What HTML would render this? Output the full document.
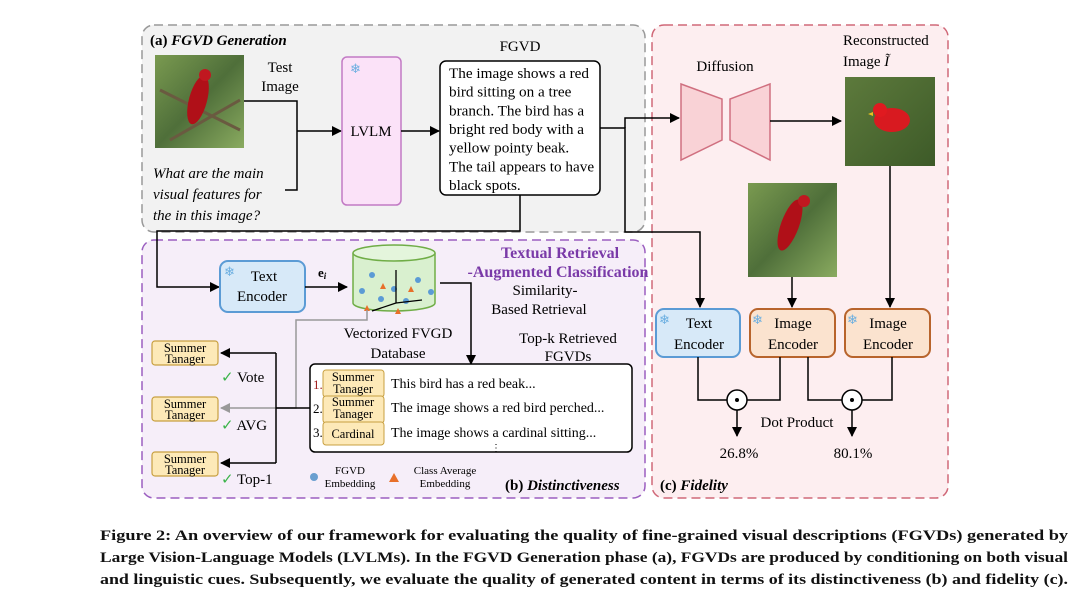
<!DOCTYPE html>
<html><head><meta charset="utf-8"><style>
body{margin:0;background:#fff;width:1080px;height:609px;overflow:hidden}
svg text{font-family:"Liberation Serif",serif}
</style></head><body>
<svg width="1080" height="609" style="position:absolute;left:0;top:0">
<defs>
<marker id="a" markerWidth="10" markerHeight="10" refX="9" refY="5" orient="auto" markerUnits="userSpaceOnUse"><path d="M0,0L10,5L0,10z" fill="#000"/></marker>
<marker id="g" markerWidth="10" markerHeight="10" refX="9" refY="5" orient="auto" markerUnits="userSpaceOnUse"><path d="M0,0L10,5L0,10z" fill="#999"/></marker>
<linearGradient id="bg1" x1="0" y1="0" x2="1" y2="1"><stop offset="0" stop-color="#7a9a50"/><stop offset=".5" stop-color="#4f6f3a"/><stop offset="1" stop-color="#8aab60"/></linearGradient>
<linearGradient id="bg2" x1="0" y1="0" x2="1" y2="1"><stop offset="0" stop-color="#5d7a3c"/><stop offset="1" stop-color="#3d5a28"/></linearGradient>
</defs>
<rect x="142" y="25" width="503" height="207" rx="12" fill="#f2f2f2" stroke="#999" stroke-width="1.5" stroke-dasharray="9,5"/>
<rect x="142" y="240" width="503" height="258" rx="12" fill="#f6eef9" stroke="#9b5fc0" stroke-width="1.5" stroke-dasharray="9,5"/>
<rect x="652" y="25" width="296" height="473" rx="12" fill="#fdeef0" stroke="#d06878" stroke-width="1.5" stroke-dasharray="9,5"/>
<text x="150" y="45" font-size="15" font-weight="bold">(a) <tspan font-style="italic">FGVD Generation</tspan></text>
<rect x="155" y="55" width="89" height="93" fill="url(#bg1)"/>
<path d="M160,90L240,130M170,140L240,100" stroke="#6a5a40" stroke-width="3"/>
<ellipse cx="198" cy="100" rx="9" ry="25" fill="#b01018" transform="rotate(15 198 100)"/>
<circle cx="205" cy="75" r="6" fill="#c01820"/>
<text x="280" y="72" font-size="15" text-anchor="middle">Test</text>
<text x="280" y="91" font-size="15" text-anchor="middle">Image</text>
<text font-size="15" font-style="italic"><tspan x="153" y="178">What are the main</tspan><tspan x="153" y="199">visual features for</tspan><tspan x="153" y="220">the in this image?</tspan></text>
<path d="M244,101H297V190H285" fill="none" stroke="#000" stroke-width="1.5"/>
<path d="M297,131H341" stroke="#000" stroke-width="1.5" marker-end="url(#a)"/>
<rect x="342" y="57" width="59" height="148" rx="5" fill="#fbe2f8" stroke="#c27ac4" stroke-width="1.5"/>
<text x="350" y="73" font-size="13" fill="#6aaee0">❄</text>
<text x="371" y="136" font-size="15" text-anchor="middle">LVLM</text>
<path d="M401,131H439" stroke="#000" stroke-width="1.5" marker-end="url(#a)"/>
<text x="520" y="51" font-size="15" text-anchor="middle">FGVD</text>
<rect x="440" y="61" width="160" height="134" rx="6" fill="#fff" stroke="#000" stroke-width="1.5"/>
<text font-size="15.2"><tspan x="449" y="78">The image shows a red</tspan><tspan x="449" y="96.7">bird sitting on a tree</tspan><tspan x="449" y="115.3">branch. The bird has a</tspan><tspan x="449" y="134">bright red body with a</tspan><tspan x="449" y="152.7">yellow pointy beak.</tspan><tspan x="449" y="171.3">The tail appears to have</tspan><tspan x="449" y="190">black spots.</tspan></text>
<path d="M600,128H625V232H700V307" fill="none" stroke="#000" stroke-width="1.5" marker-end="url(#a)"/>
<path d="M625,128V118H679" fill="none" stroke="#000" stroke-width="1.5" marker-end="url(#a)"/>
<path d="M520,195V231H157V287H219" fill="none" stroke="#000" stroke-width="1.5" marker-end="url(#a)"/>
<rect x="220" y="261" width="85" height="51" rx="8" fill="#d7e9f8" stroke="#5b9bd5" stroke-width="2"/>
<text x="224" y="276" font-size="13" fill="#6aaee0">❄</text>
<text x="264" y="281" font-size="15" text-anchor="middle">Text</text>
<text x="262" y="301" font-size="15" text-anchor="middle">Encoder</text>
<text x="318" y="277" font-size="13" font-weight="bold">e<tspan font-size="9" font-style="italic" dy="2">i</tspan></text>
<path d="M305,287H347" stroke="#000" stroke-width="1.5" marker-end="url(#a)"/>
<path d="M353,253V303A41,8 0 0 0 435,303V253" fill="#d9f0cf" stroke="#70ad47" stroke-width="1.5"/>
<ellipse cx="394" cy="253" rx="41" ry="8" fill="#e4f5dc" stroke="#70ad47" stroke-width="1.5"/>
<g fill="#5b9bd5"><circle cx="372" cy="275" r="3"/><circle cx="362" cy="291" r="3"/><circle cx="381" cy="299" r="3"/><circle cx="394" cy="289" r="3"/><circle cx="418" cy="280" r="3"/><circle cx="431" cy="292" r="3"/><circle cx="406" cy="301" r="3"/></g>
<g fill="#e8702a"><path d="M380,289l3,-6l3,6z"/><path d="M408,292l3,-6l3,6z"/><path d="M364,311l3,-6l3,6z"/><path d="M395,314l3,-6l3,6z"/></g>
<path d="M396,303V270M396,303L422,300M396,303L372,311" stroke="#000" stroke-width="1.3"/>
<text x="560" y="258" font-size="16" font-weight="bold" fill="#7a3aa8" text-anchor="middle">Textual Retrieval</text>
<text x="558" y="277" font-size="16" font-weight="bold" fill="#7a3aa8" text-anchor="middle">-Augmented Classification</text>
<text x="545" y="295" font-size="15" text-anchor="middle">Similarity-</text>
<text x="539" y="314" font-size="15" text-anchor="middle">Based Retrieval</text>
<path d="M440,283H471V364" fill="none" stroke="#000" stroke-width="1.5" marker-end="url(#a)"/>
<text x="398" y="338" font-size="15" text-anchor="middle">Vectorized FVGD</text>
<text x="398" y="358" font-size="15" text-anchor="middle">Database</text>
<text x="568" y="343" font-size="15" text-anchor="middle">Top-k Retrieved</text>
<text x="568" y="361" font-size="15" text-anchor="middle">FGVDs</text>
<rect x="310" y="364" width="322" height="88" rx="5" fill="#fff" stroke="#000" stroke-width="1.5"/>
<g font-size="13">
<text x="313" y="389" fill="#a02020">1.</text><text x="313" y="413">2.</text><text x="313" y="437">3.</text></g>
<g fill="#fde9b8" stroke="#c8a040" stroke-width="1"><rect x="323" y="370" width="61" height="27" rx="3"/><rect x="323" y="396" width="61" height="27" rx="3"/><rect x="323" y="422" width="61" height="23" rx="3"/></g>
<g font-size="12.5" text-anchor="middle"><text x="353" y="381">Summer</text><text x="353" y="393">Tanager</text><text x="353" y="406">Summer</text><text x="353" y="418">Tanager</text><text x="353" y="438">Cardinal</text></g>
<g font-size="14"><text x="391" y="388">This bird has a red beak...</text><text x="391" y="412">The image shows a red bird perched...</text><text x="391" y="437">The image shows a cardinal sitting...</text><text x="491" y="451" font-size="10">⋮</text></g>
<path d="M367,310V320H296V408H221" fill="none" stroke="#999" stroke-width="1.5" marker-end="url(#g)"/>
<path d="M310,408H276" stroke="#000" stroke-width="1.5"/>
<path d="M276,353V463" stroke="#000" stroke-width="1.5"/>
<path d="M276,353H221" stroke="#000" stroke-width="1.5" marker-end="url(#a)"/>
<path d="M276,463H221" stroke="#000" stroke-width="1.5" marker-end="url(#a)"/>
<g fill="#fde9b8" stroke="#c8a040" stroke-width="1.2"><rect x="152" y="341" width="66" height="24" rx="3"/><rect x="152" y="397" width="66" height="24" rx="3"/><rect x="152" y="452" width="66" height="24" rx="3"/></g>
<g font-size="12.5" text-anchor="middle"><text x="185" y="352">Summer</text><text x="185" y="363">Tanager</text><text x="185" y="408">Summer</text><text x="185" y="419">Tanager</text><text x="185" y="463">Summer</text><text x="185" y="474">Tanager</text></g>
<g font-size="15"><text x="221" y="382"><tspan fill="#3cb44b">✓</tspan> Vote</text><text x="221" y="430"><tspan fill="#3cb44b">✓</tspan> AVG</text><text x="221" y="484"><tspan fill="#3cb44b">✓</tspan> Top-1</text></g>
<circle cx="314" cy="477" r="4" fill="#6a9fd0"/>
<text x="350" y="474" font-size="11" text-anchor="middle">FGVD</text><text x="350" y="487" font-size="11" text-anchor="middle">Embedding</text>
<path d="M389,482l5,-9l5,9z" fill="#e8702a"/>
<text x="445" y="474" font-size="11" text-anchor="middle">Class Average</text><text x="445" y="487" font-size="11" text-anchor="middle">Embedding</text>
<text x="505" y="490" font-size="15" font-weight="bold">(b) <tspan font-style="italic">Distinctiveness</tspan></text>
<text x="725" y="71" font-size="15" text-anchor="middle">Diffusion</text>
<path d="M681,84L722,99V140L681,160Z" fill="#f9d2d6" stroke="#d07080" stroke-width="1.5"/>
<path d="M770,84L730,99V140L770,160Z" fill="#f9d2d6" stroke="#d07080" stroke-width="1.5"/>
<path d="M770,121H841" stroke="#000" stroke-width="1.5" marker-end="url(#a)"/>
<text x="843" y="45" font-size="15">Reconstructed</text>
<text x="843" y="66" font-size="15">Image <tspan font-style="italic">Ĩ</tspan></text>
<rect x="845" y="77" width="90" height="89" fill="url(#bg2)"/>
<ellipse cx="892" cy="120" rx="18" ry="12" fill="#d81a20"/><circle cx="880" cy="110" r="7" fill="#e01a20"/><path d="M873,112l-5,2l5,2z" fill="#e8c020"/>
<rect x="748" y="183" width="89" height="94" fill="url(#bg1)"/>
<ellipse cx="790" cy="225" rx="9" ry="27" fill="#b01018" transform="rotate(20 790 225)"/>
<circle cx="804" cy="201" r="6" fill="#c01820"/>
<path d="M792,277V307" stroke="#000" stroke-width="1.5" marker-end="url(#a)"/>
<path d="M890,166V307" stroke="#000" stroke-width="1.5" marker-end="url(#a)"/>
<rect x="656" y="309" width="84" height="48" rx="8" fill="#d7e9f8" stroke="#5b9bd5" stroke-width="2"/>
<rect x="750" y="309" width="85" height="48" rx="8" fill="#fbe3cf" stroke="#b8642c" stroke-width="2"/>
<rect x="845" y="309" width="85" height="48" rx="8" fill="#fbe3cf" stroke="#b8642c" stroke-width="2"/>
<g font-size="13" fill="#6aaee0"><text x="659" y="324">❄</text><text x="752" y="324">❄</text><text x="847" y="324">❄</text></g>
<g font-size="15" text-anchor="middle"><text x="699" y="328">Text</text><text x="699" y="349">Encoder</text><text x="793" y="328">Image</text><text x="793" y="349">Encoder</text><text x="888" y="328">Image</text><text x="888" y="349">Encoder</text></g>
<path d="M698,357V400H727M780,357V400H747M808,357V400H842M892,357V400H862" fill="none" stroke="#000" stroke-width="1.5"/>
<circle cx="737" cy="400" r="10" fill="#fff" stroke="#000" stroke-width="1.5"/><circle cx="737" cy="400" r="2" fill="#000"/>
<circle cx="852" cy="400" r="10" fill="#fff" stroke="#000" stroke-width="1.5"/><circle cx="852" cy="400" r="2" fill="#000"/>
<path d="M737,410V436" stroke="#000" stroke-width="1.5" marker-end="url(#a)"/>
<path d="M852,410V436" stroke="#000" stroke-width="1.5" marker-end="url(#a)"/>
<text x="797" y="427" font-size="15" text-anchor="middle">Dot Product</text>
<text x="739" y="458" font-size="15" text-anchor="middle">26.8%</text>
<text x="853" y="458" font-size="15" text-anchor="middle">80.1%</text>
<text x="660" y="490" font-size="15" font-weight="bold">(c) <tspan font-style="italic">Fidelity</tspan></text>
<g font-size="15" font-weight="bold" fill="#111">
<text x="100" y="540" textLength="968" lengthAdjust="spacingAndGlyphs">Figure 2: An overview of our framework for evaluating the quality of fine-grained visual descriptions (FGVDs) generated by</text>
<text x="100" y="562" textLength="968" lengthAdjust="spacingAndGlyphs">Large Vision-Language Models (LVLMs). In the FGVD Generation phase (a), FGVDs are produced by conditioning on both visual</text>
<text x="100" y="584" textLength="968" lengthAdjust="spacingAndGlyphs">and linguistic cues. Subsequently, we evaluate the quality of generated content in terms of its distinctiveness (b) and fidelity (c).</text>
</g>
</svg>
</body></html>
